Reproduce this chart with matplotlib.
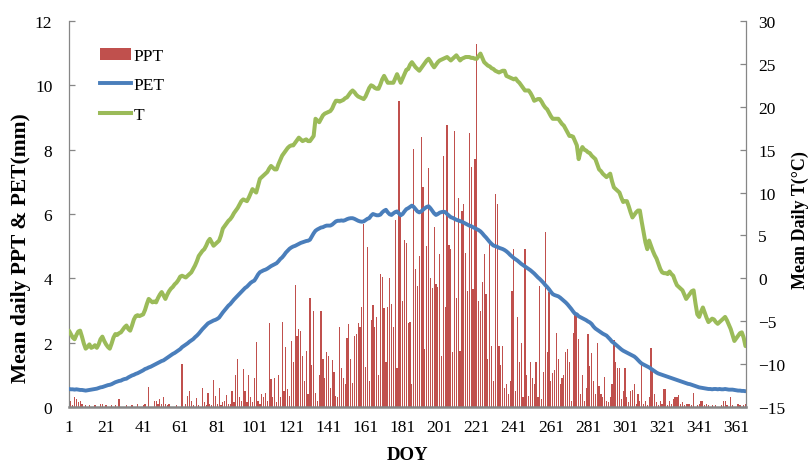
import matplotlib
matplotlib.use("Agg")
import matplotlib.pyplot as plt
from matplotlib.patches import Patch
from matplotlib.lines import Line2D
import numpy as np

plt.rcParams['font.family'] = ['Liberation Serif', 'DejaVu Serif']

days = list(range(1, 367))

ppt = [
 0.4,0.2,0.05,0.3,0.25,0.15,0.2,0.1,0.0,0.05,
 0,0.05,0,0,0.05,0,0,0.1,0.08,0,
 0.05,0,0,0.05,0,0.05,0,0.25,0,0,
 0,0.05,0,0,0.05,0,0,0.08,0,0,
 0.05,0.1,0,0.61,0,0,0.2,0.2,0.1,0.25,
 0.1,0.3,0.1,0.05,0.1,0,0,0,0.05,0,
 0,1.34,0,0.1,0.35,0.5,0.2,0.05,0,0.28,
 0.05,0,0.6,0.15,0.05,0.43,0.1,0.05,0.84,0.33,
 0.1,0.6,0.05,0.15,0.2,0.37,0.1,0.08,0.5,0.15,
 0.98,1.49,0.3,0.2,1.18,0.5,0.15,1.0,0.3,0.15,
 0.9,2.01,0.2,0.1,0.4,0.3,0.45,0.2,2.61,0.87,
 0.3,0.9,0.15,1.0,0.3,2.63,0.5,1.86,0.55,0.35,
 2.04,1.4,3.8,2.2,2.42,2.36,1.6,0.8,1.75,0.4,
 3.38,1.3,2.99,0.45,0.2,1.0,3.0,1.5,0.9,1.7,
 1.6,0.6,1.45,1.1,0.35,0.3,2.5,1.2,0.9,0.7,
 2.16,2.57,1.5,0.75,2.2,2.28,2.61,2.5,3.1,5.69,
 1.25,4.96,0.8,2.7,3.16,2.5,2.79,1.0,4.13,4.05,
 3.07,1.4,3.1,4.0,3.2,2.5,5.8,1.2,9.52,5.9,
 3.3,5.2,5.1,2.6,2.65,0.7,8.02,4.3,3.77,4.7,
 8.38,6.85,1.8,5.0,7.42,4.0,3.7,5.6,3.83,3.73,
 4.77,1.6,7.81,3.1,8.77,5.05,4.9,1.7,8.59,3.4,
 6.5,1.75,6.1,6.3,4.8,3.6,8.52,7.45,3.67,7.7,
 11.28,3.3,3.0,3.9,4.77,3.5,1.5,5.2,1.9,0.8,
 6.63,6.3,1.9,1.3,1.9,0.6,0.7,0.4,0.8,3.6,
 4.9,0.5,2.8,1.4,2.0,0.3,4.9,1.0,0.35,1.4,
 0.9,0.7,1.4,0.3,3.77,0.25,1.1,5.43,1.7,3.57,
 0.8,1.05,1.15,2.3,1.5,0.7,0.9,1.0,1.7,1.8,
 1.4,0.2,2.3,2.9,2.85,2.1,0.4,1.0,0.2,0.6,
 2.27,1.27,1.67,0.8,0.4,2.0,0.65,0.4,0.3,0.93,
 0.2,0.15,0.3,0.7,2.08,1.4,1.2,1.2,0.25,0.5,
 1.2,0.3,0.15,0.5,0.53,0.7,0.1,0.4,0.2,1.4,
 0.1,0.2,0.05,0.3,1.82,1.15,0.4,0.15,0.05,0.2,
 0.1,0.55,0.55,0.05,0.2,0.1,0.25,0.3,0.3,0.37,
 0.1,0.15,0.05,0.1,0.1,0.1,0.05,0.45,0,0.05,
 0.1,0.2,0.2,0.05,0.1,0.05,0,0.05,0,0.05,
 0,0,0.05,0.2,0.2,0.05,0,0.3,0.05,0,
 0,0.1,0.05,0,0.05,0.1,
]

pet = [
 0.56,0.55,0.55,0.54,0.55,0.54,0.53,0.53,0.52,0.51,
 0.52,0.53,0.54,0.55,0.56,0.57,0.59,0.61,0.62,0.64,
 0.66,0.68,0.69,0.71,0.74,0.77,0.79,0.81,0.82,0.85,
 0.87,0.88,0.92,0.95,0.98,1.0,1.03,1.05,1.08,1.11,
 1.14,1.18,1.2,1.23,1.25,1.28,1.31,1.34,1.37,1.4,
 1.43,1.45,1.49,1.53,1.57,1.61,1.65,1.68,1.72,1.76,
 1.8,1.86,1.9,1.94,1.98,2.03,2.07,2.11,2.17,2.22,
 2.28,2.35,2.42,2.48,2.54,2.6,2.63,2.66,2.69,2.71,
 2.74,2.78,2.86,2.94,3.01,3.08,3.15,3.2,3.27,3.34,
 3.4,3.46,3.52,3.58,3.64,3.7,3.74,3.8,3.86,3.9,
 3.93,4.02,4.12,4.19,4.22,4.25,4.27,4.3,4.34,4.38,
 4.41,4.44,4.47,4.53,4.6,4.65,4.72,4.8,4.86,4.92,
 4.96,4.99,5.01,5.04,5.07,5.1,5.12,5.14,5.16,5.17,
 5.2,5.3,5.4,5.48,5.52,5.55,5.58,5.59,5.62,5.64,
 5.64,5.64,5.67,5.72,5.77,5.79,5.79,5.8,5.79,5.81,
 5.84,5.86,5.87,5.87,5.85,5.82,5.79,5.77,5.76,5.77,
 5.81,5.85,5.87,5.95,6.0,5.98,5.96,5.96,5.98,6.05,
 6.1,6.13,6.05,5.99,5.97,6.02,6.06,6.08,6.02,5.96,
 6.0,6.08,6.15,6.18,6.22,6.26,6.22,6.15,6.08,6.05,
 6.08,6.13,6.18,6.22,6.24,6.18,6.1,6.02,5.97,6.0,
 6.04,6.06,6.07,6.06,6.0,5.95,5.9,5.88,5.85,5.82,
 5.8,5.78,5.76,5.73,5.7,5.67,5.64,5.62,5.59,5.56,
 5.53,5.5,5.46,5.4,5.33,5.27,5.2,5.13,5.07,5.02,
 5.0,4.98,4.95,4.93,4.91,4.88,4.84,4.79,4.73,4.68,
 4.63,4.59,4.55,4.5,4.45,4.41,4.37,4.33,4.29,4.25,
 4.2,4.15,4.09,4.03,3.98,3.92,3.86,3.79,3.73,3.66,
 3.58,3.51,3.48,3.46,3.44,3.4,3.35,3.3,3.25,3.19,
 3.12,3.05,2.97,2.9,2.88,2.82,2.79,2.76,2.73,2.7,
 2.66,2.63,2.58,2.5,2.44,2.4,2.36,2.32,2.28,2.25,
 2.22,2.16,2.1,2.03,1.99,1.94,1.89,1.84,1.79,1.75,
 1.72,1.69,1.66,1.63,1.6,1.57,1.52,1.46,1.4,1.35,
 1.32,1.29,1.26,1.23,1.19,1.15,1.11,1.07,1.04,1.02,
 1.0,0.98,0.96,0.94,0.92,0.9,0.88,0.86,0.84,0.82,
 0.8,0.78,0.76,0.74,0.72,0.71,0.69,0.67,0.65,0.63,
 0.61,0.6,0.59,0.58,0.57,0.56,0.56,0.55,0.56,0.56,
 0.55,0.56,0.55,0.55,0.56,0.55,0.54,0.54,0.54,0.53,
 0.52,0.51,0.51,0.5,0.5,0.49,
]

temp = [
 -6.1,-6.5,-6.9,-7.1,-6.6,-6.2,-6.1,-6.8,-7.6,-8.2,
 -8.0,-7.7,-8.1,-8.0,-7.8,-8.1,-7.7,-7.1,-6.8,-7.3,
 -7.7,-8.0,-8.2,-7.6,-6.9,-6.5,-6.6,-6.4,-6.3,-6.0,
 -5.7,-5.5,-5.9,-6.1,-5.5,-4.8,-4.4,-4.3,-4.4,-4.3,
 -4.2,-3.7,-3.0,-2.4,-2.6,-2.8,-2.7,-2.8,-2.3,-1.9,
 -1.6,-2.0,-2.4,-1.9,-1.5,-1.2,-1.0,-0.7,-0.5,-0.2,
 0.2,0.3,0.2,0.1,0.3,0.5,0.7,1.1,1.5,2.0,
 2.6,2.9,3.2,3.4,3.8,4.3,4.6,4.2,3.8,4.0,
 4.2,4.4,5.0,5.8,6.1,6.4,6.7,6.9,7.2,7.6,
 7.9,8.2,8.6,9.0,9.2,9.1,9.0,9.4,9.9,10.4,
 10.2,10.0,10.8,11.6,11.8,12.0,12.2,12.4,12.8,13.1,
 12.9,12.7,12.7,13.3,13.8,14.3,14.6,14.9,15.2,15.4,
 15.5,15.5,15.8,16.1,16.4,16.2,16.0,16.1,16.2,16.0,
 16.0,16.3,16.6,18.6,18.4,18.2,18.6,19.0,19.2,19.3,
 19.4,19.5,19.8,20.3,20.7,20.7,20.6,20.7,20.8,21.0,
 21.1,21.4,21.7,21.9,21.7,21.4,21.2,21.1,21.0,20.9,
 21.2,21.7,22.2,22.5,22.4,22.2,22.1,22.1,22.6,23.2,
 23.6,23.2,22.8,22.8,22.8,22.8,23.3,23.8,23.3,22.8,
 23.3,23.8,24.3,24.4,24.9,25.2,24.9,24.6,24.4,24.2,
 24.5,24.8,25.1,25.4,25.6,25.3,24.9,24.6,24.9,25.2,
 25.4,25.5,25.6,25.7,25.8,25.6,25.4,25.6,25.8,26.0,
 25.7,25.4,25.6,25.7,25.8,25.8,25.8,25.7,25.7,25.6,
 25.6,25.9,26.2,25.7,25.2,25.0,24.8,24.7,24.5,24.4,
 24.2,24.1,24.0,24.1,24.2,24.2,23.6,23.5,23.4,23.3,
 23.2,23.3,23.0,22.8,22.5,22.2,21.9,21.9,21.9,21.6,
 21.2,20.7,20.8,20.9,20.9,20.6,20.2,19.9,19.7,19.3,
 18.9,18.6,18.6,18.6,18.6,18.3,18.0,17.8,17.4,17.0,
 16.6,16.6,16.5,16.0,15.5,13.9,14.8,15.3,15.0,14.9,
 14.7,14.6,14.3,14.1,13.9,13.3,12.7,12.5,12.2,12.0,
 11.8,12.0,12.2,11.3,10.6,10.4,10.2,10.0,9.4,8.9,
 9.0,9.0,8.4,7.7,7.1,7.4,7.7,7.9,7.9,6.6,
 5.4,4.2,3.4,4.4,3.8,3.2,2.7,2.3,1.7,1.1,
 0.7,0.6,0.6,0.5,0.8,0.5,0.3,-0.3,-0.8,-1.0,
 -1.2,-1.4,-1.9,-2.4,-2.1,-1.8,-1.5,-1.4,-2.9,-4.2,
 -4.5,-3.9,-3.4,-4.0,-4.6,-5.1,-4.9,-4.7,-4.8,-5.1,
 -5.3,-5.1,-4.9,-4.7,-4.5,-4.9,-5.4,-5.9,-6.6,-7.3,
 -7.0,-6.7,-6.4,-6.3,-6.9,-7.9,
]

xticks = list(range(1, 362, 20))
left_ticks = [0, 2, 4, 6, 8, 10, 12]
right_ticks = [-15, -10, -5, 0, 5, 10, 15, 20, 25, 30]

RED = '#C0504D'
BLUE = '#4A7EBB'
GREEN = '#9BBB59'
GRAY = '#868686'
FS = 12.5

fig = plt.figure(figsize=(8.11, 4.64), dpi=100)
ax = fig.add_axes([69/811, 56/464, 676.5/811, 386/464])
ax2 = ax.twinx()

ax.bar(days, ppt, width=0.65, color=RED, linewidth=0, zorder=2)
ax.plot(days, pet, color=BLUE, lw=2.8, zorder=3, solid_capstyle='round')
ax2.plot(days, temp, color=GREEN, lw=2.9, zorder=3, solid_capstyle='round')

ax.set_xlim(1, 366)
ax.set_ylim(0, 12)
ax2.set_ylim(-15, 30)
ax.set_xticks(xticks)
ax.set_yticks(left_ticks)
ax2.set_yticks(right_ticks)

for a in (ax, ax2):
    a.spines['top'].set_visible(False)
    for s in ('left', 'right', 'bottom'):
        a.spines[s].set_color(GRAY)
        a.spines[s].set_linewidth(0.9)
ax.spines['right'].set_visible(False)
ax2.spines['left'].set_visible(False)
ax2.spines['bottom'].set_visible(False)
ax.spines['bottom'].set_linewidth(1.8)

ax.tick_params(axis='x', length=0, pad=9, labelsize=FS)
ax.tick_params(axis='y', direction='in', length=4, color=GRAY, width=0.9, pad=12, labelsize=FS)
ax2.tick_params(axis='y', direction='in', length=4, color=GRAY, width=0.9, pad=9, labelsize=FS)

ax.set_xlabel('DOY', fontsize=FS + 1, fontweight='bold')
ax.xaxis.set_label_coords(0.5, -39/386)
ax.set_ylabel('Mean daily PPT & PET(mm)', fontsize=15.5, fontweight='bold')
ax.yaxis.set_label_coords(-38/676.5, (408-248)/386)
ax2.set_ylabel('Mean Daily T(°C)', fontsize=FS + 0.5, fontweight='bold')
ax2.yaxis.set_label_coords(1 + 46/676.5, (408-220)/386)

handles = [Patch(facecolor=RED, edgecolor='none'),
           Line2D([0], [0], color=BLUE, lw=2.8),
           Line2D([0], [0], color=GREEN, lw=2.9)]
ax2.legend(handles, ['PPT', 'PET', 'T'], loc='upper left',
           bbox_to_anchor=(31/676.5, 1 - 27/386), frameon=False,
           fontsize=FS, handlelength=1.8, handletextpad=0.15,
           labelspacing=0.76, borderpad=0, borderaxespad=0)

fig.savefig('out.png', dpi=100)
